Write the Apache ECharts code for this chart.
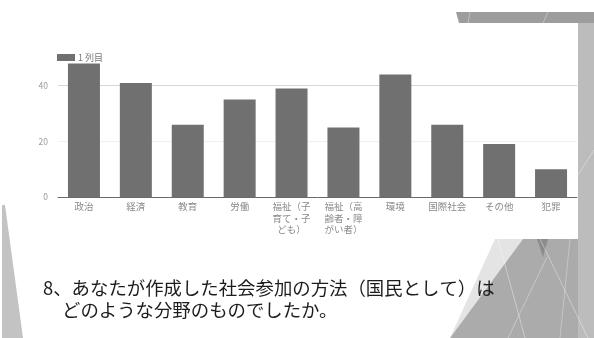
<!DOCTYPE html>
<html>
<head>
<meta charset="utf-8">
<script src="https://cdn.jsdelivr.net/npm/echarts@6/dist/echarts.min.js"></script>
<style>
  html, body { margin: 0; padding: 0; background: #ffffff; }
  #chart { width: 594px; height: 338px; }
</style>
</head>
<body>
<div id="chart"></div>
<script>
// Survey answers: field of the citizen-participation method each respondent designed
const categories = ['政治', '経済', '教育', '労働', '福祉（子育て・子ども）', '福祉（高齢者・障がい者）', '環境', '国際社会', 'その他', '犯罪'];
const counts = [48, 41, 26, 35, 39, 25, 44, 26, 19, 10];
const seriesName = '1 列目';
const yMin = 0;
const yMax = 60;
const yStep = 20;
const captionLines = ['8、あなたが作成した社会参加の方法（国民として）は', 'どのような分野のものでしたか。'];

const barColor = '#707070';
const jpFont = '"Noto Sans CJK JP", "Noto Sans", sans-serif';

// wrap long category names every four characters
function wrapLabel(s) {
  const parts = [];
  for (let i = 0; i < s.length; i += 4) parts.push(s.slice(i, i + 4));
  return parts.join('\n');
}

// slide decoration: grey facets around the pasted chart
const deco = [
  // top band
  { type: 'polygon', shape: { points: [[456, 12], [594, 12], [594, 23], [459, 23]] }, style: { fill: '#9d9d9d' }, z: 0 },
  // right strip
  { type: 'polygon', shape: { points: [[578, 23], [594, 23], [594, 338], [578, 338]] }, style: { fill: '#bcbcbc' }, z: 0 },
  // left wedge
  { type: 'polygon', shape: { points: [[2, 205], [5, 205], [23, 338], [2, 338]] }, style: { fill: '#c3c3c3' }, z: 0 },
  // lower right facets
  { type: 'polygon', shape: { points: [[495, 239], [523, 239], [450, 338]] }, style: { fill: '#e4e4e4' }, z: 0 },
  { type: 'polygon', shape: { points: [[523, 239], [578, 239], [578, 338], [450, 338]] }, style: { fill: '#ababab' }, z: 0 },
  { type: 'polygon', shape: { points: [[537, 239], [548, 239], [543, 257]] }, style: { fill: '#8c8c8c' }, z: 1 },
  { type: 'line', shape: { x1: 498, y1: 239, x2: 525, y2: 338 }, style: { stroke: 'rgba(255,255,255,0.55)', lineWidth: 0.7 }, z: 1 },
  { type: 'line', shape: { x1: 540, y1: 239, x2: 588, y2: 338 }, style: { stroke: 'rgba(255,255,255,0.55)', lineWidth: 0.7 }, z: 1 },
  { type: 'line', shape: { x1: 547, y1: 257, x2: 508, y2: 338 }, style: { stroke: 'rgba(255,255,255,0.5)', lineWidth: 0.7 }, z: 1 },
  { type: 'line', shape: { x1: 570, y1: 239, x2: 560, y2: 338 }, style: { stroke: 'rgba(255,255,255,0.45)', lineWidth: 0.7 }, z: 1 },
  { type: 'line', shape: { x1: 594, y1: 150, x2: 578, y2: 175 }, style: { stroke: 'rgba(255,255,255,0.5)', lineWidth: 0.7 }, z: 1 },
  { type: 'line', shape: { x1: 470, y1: 12, x2: 468, y2: 23 }, style: { stroke: 'rgba(255,255,255,0.5)', lineWidth: 0.7 }, z: 1 },
  { type: 'line', shape: { x1: 548, y1: 12, x2: 543, y2: 23 }, style: { stroke: 'rgba(255,255,255,0.5)', lineWidth: 0.7 }, z: 1 },
  // caption
  { type: 'text', left: 43, top: 279, style: { text: captionLines[0], font: '18.4px ' + jpFont, fill: '#1c1c1c' }, z: 5 },
  { type: 'text', left: 62, top: 301, style: { text: captionLines[1], font: '18.4px ' + jpFont, fill: '#1c1c1c' }, z: 5 }
];

const chart = echarts.init(document.getElementById('chart'), null, { renderer: 'canvas' });
chart.setOption({
  backgroundColor: '#ffffff',
  animation: false,
  textStyle: { fontFamily: jpFont },
  graphic: deco,
  legend: {
    data: [seriesName],
    left: 57,
    top: 53,
    padding: 0,
    itemWidth: 18,
    itemHeight: 7,
    icon: 'rect',
    textStyle: { fontSize: 9, color: '#777777', padding: [0, 0, 0, -2] }
  },
  grid: { left: 58, right: 17, top: 30, bottom: 141, containLabel: false },
  xAxis: {
    type: 'category',
    data: categories,
    axisLine: { lineStyle: { color: '#6a6a6a', width: 1 } },
    axisTick: { show: false },
    axisLabel: {
      formatter: wrapLabel,
      fontSize: 9.5,
      lineHeight: 11.5,
      color: '#8a8a8a',
      margin: 4,
      interval: 0
    }
  },
  yAxis: {
    type: 'value',
    min: yMin,
    max: yMax,
    interval: yStep,
    axisLine: { show: false },
    axisTick: { show: false },
    axisLabel: { fontSize: 8.5, color: '#9a9a9a', margin: 10, showMaxLabel: false },
    splitLine: { lineStyle: { color: ['rgba(0,0,0,0)', '#f0f0f0', '#d6d6d6', 'rgba(0,0,0,0)'], width: 1 } }
  },
  series: [{
    name: seriesName,
    type: 'bar',
    data: counts,
    barWidth: 32,
    itemStyle: { color: barColor }
  }]
});
</script>
</body>
</html>
